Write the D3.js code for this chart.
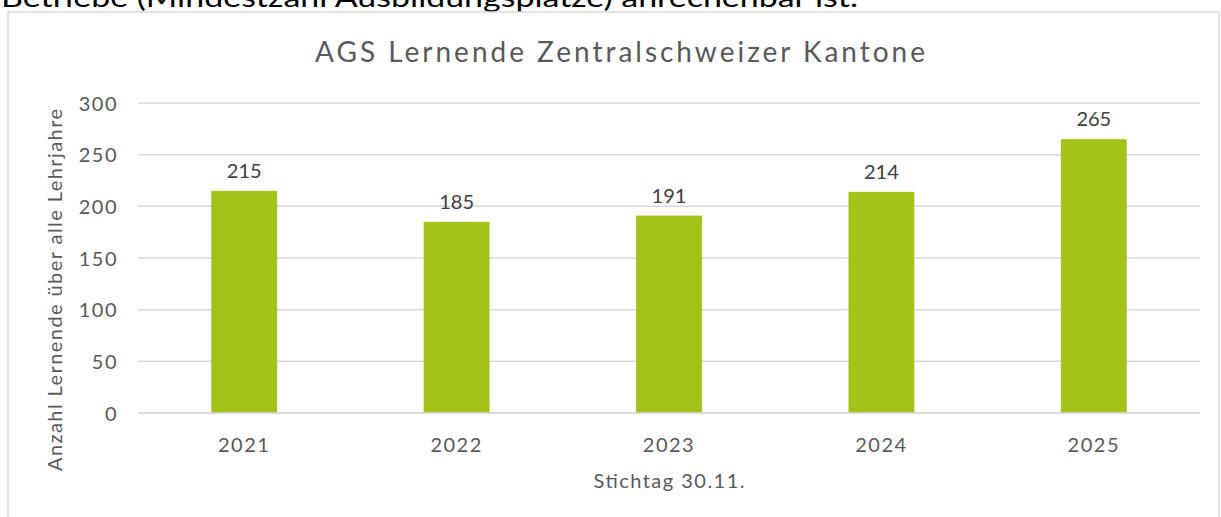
<!DOCTYPE html>
<html>
<head>
<meta charset="utf-8">
<script src="https://cdn.jsdelivr.net/npm/d3@7"></script>
<style>
  html, body { margin: 0; padding: 0; background: #fff; }
  svg { display: block; }
  text { font-family: Lato, "Open Sans", sans-serif; }
</style>
</head>
<body>
<svg id="chart" width="1221" height="517"></svg>
<script>
const categories = ["2021", "2022", "2023", "2024", "2025"];
const values = [215, 185, 191, 214, 265];
const yTicks = [0, 50, 100, 150, 200, 250, 300];
const titleText = "AGS Lernende Zentralschweizer Kantone";
const xAxisTitle = "Stichtag 30.11.";
const yAxisTitle = "Anzahl Lernende über alle Lehrjahre";
const aboveText = "Betriebe (Mindestzahl Ausbildungsplätze) anrechenbar ist.";

const svg = d3.select("#chart");
const plot = { left: 138, right: 1200, top: 103, bottom: 413 };

// text above chart (cropped like the reference)
svg.append("text")
  .attr("x", 1).attr("y", 7)
  .attr("font-size", 27)
  .attr("fill", "#000")
  .attr("textLength", 857)
  .attr("lengthAdjust", "spacingAndGlyphs")
  .text(aboveText);

// chart border
svg.append("rect")
  .attr("x", 8).attr("y", 12)
  .attr("width", 1211).attr("height", 520)
  .attr("fill", "#fff")
  .attr("stroke", "#d9d9d9").attr("stroke-width", 1.5);

const x = d3.scaleBand().domain(categories)
  .range([plot.left, plot.right]).paddingInner(0.69).paddingOuter(0.345);
const y = d3.scaleLinear().domain([0, 300]).range([plot.bottom, plot.top]);

// gridlines
svg.append("g").selectAll("line").data(yTicks).join("line")
  .attr("x1", plot.left).attr("x2", plot.right)
  .attr("y1", d => y(d)).attr("y2", d => y(d))
  .attr("stroke", "#d9d9d9").attr("stroke-width", 1.5);

// y axis labels
const yAxis = d3.axisLeft(y).tickValues(yTicks).tickSize(0).tickPadding(0);
const gy = svg.append("g").attr("transform", `translate(118,0)`).call(yAxis);
gy.select(".domain").remove();
gy.selectAll("text")
  .attr("font-size", 20).attr("fill", "#595959")
  .attr("font-family", "Lato, 'Open Sans', sans-serif")
  .attr("letter-spacing", 1.5)
  .attr("dy", "0.36em");

// bars
svg.append("g").selectAll("rect").data(values).join("rect")
  .attr("x", (d, i) => x(categories[i]))
  .attr("width", x.bandwidth())
  .attr("y", d => y(d))
  .attr("height", d => y(0) - y(d))
  .attr("fill", "#a2c41a");

// data labels
svg.append("g").selectAll("text").data(values).join("text")
  .attr("x", (d, i) => x(categories[i]) + x.bandwidth() / 2)
  .attr("y", d => y(d) - 13)
  .attr("text-anchor", "middle")
  .attr("font-size", 20).attr("fill", "#404040")
  .text(d => d);

// x axis line
svg.append("line")
  .attr("x1", plot.left).attr("x2", plot.right)
  .attr("y1", y(0)).attr("y2", y(0))
  .attr("stroke", "#d9d9d9").attr("stroke-width", 1.5);

// x axis labels
const xAxis = d3.axisBottom(x).tickSize(0).tickPadding(0);
const gx = svg.append("g").attr("transform", `translate(0,${plot.bottom})`).call(xAxis);
gx.select(".domain").remove();
gx.selectAll("text")
  .attr("font-size", 20).attr("fill", "#595959")
  .attr("font-family", "Lato, 'Open Sans', sans-serif")
  .attr("letter-spacing", 1.5)
  .attr("dy", 0).attr("y", 39);

// title
svg.append("text")
  .attr("x", 620).attr("y", 62)
  .attr("text-anchor", "middle")
  .attr("font-size", 28).attr("fill", "#595959")
  .attr("textLength", 610).attr("lengthAdjust", "spacing")
  .text(titleText);

// x axis title
svg.append("text")
  .attr("x", (plot.left + plot.right) / 2).attr("y", 488)
  .attr("text-anchor", "middle")
  .attr("font-size", 20).attr("fill", "#595959")
  .attr("textLength", 151).attr("lengthAdjust", "spacing")
  .text(xAxisTitle);

// y axis title
svg.append("text")
  .attr("transform", "translate(62,290) rotate(-90)")
  .attr("text-anchor", "middle")
  .attr("font-size", 20).attr("fill", "#595959")
  .attr("textLength", 362).attr("lengthAdjust", "spacing")
  .text(yAxisTitle);
</script>
</body>
</html>
